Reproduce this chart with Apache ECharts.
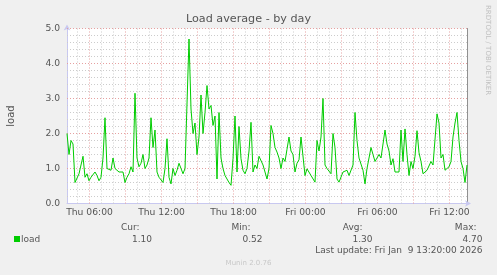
<!DOCTYPE html>
<html><head><meta charset="utf-8">
<script src="https://cdn.jsdelivr.net/npm/echarts@6/dist/echarts.min.js"></script>
<style>html,body{margin:0;padding:0;background:#f0f0f0}#c{width:497px;height:275px}</style>
</head><body><div id="c"></div>
<script>
// Load average samples, 10-minute steps, starting Thu 04:07:30
const loadValues = [
  2.0,1.4,1.8,1.7,0.6,0.55,0.85,0.9,1.35,0.75,
  0.85,0.65,0.75,0.8,0.9,0.8,0.65,0.75,1.3,2.45,
  1.0,1.0,0.95,1.3,1.0,1.05,0.9,0.95,0.9,0.6,
  0.75,0.85,1.05,0.9,3.15,1.3,1.05,1.15,1.4,1.0,
  1.1,1.3,2.45,1.6,2.1,0.9,0.75,0.75,0.6,1.0,
  1.85,0.75,0.56,1.0,0.8,0.95,1.15,1.0,0.85,1.0,
  1.0,4.7,2.7,2.0,2.3,1.4,1.9,3.1,2.0,2.6,
  3.37,2.7,2.8,2.23,2.5,0.7,2.6,1.3,1.0,0.8,
  0.75,0.6,0.52,1.28,2.5,0.9,2.2,1.28,0.95,0.85,
  1.0,1.5,2.32,0.9,1.1,1.0,1.35,1.37,1.1,0.9,
  0.7,1.0,2.23,2.0,1.6,1.47,1.3,1.0,1.3,1.2,
  1.55,1.9,1.5,1.4,0.9,1.15,1.25,1.9,1.85,0.8,
  0.99,0.95,0.8,0.85,0.61,1.8,1.5,1.9,3.0,1.1,
  1.0,1.0,0.85,2.0,1.6,0.7,0.61,0.66,0.9,0.85,
  0.95,0.8,0.75,1.1,2.6,1.8,1.3,1.25,0.95,0.56,
  1.0,1.3,1.6,1.4,1.2,1.2,1.4,1.3,1.3,2.1,
  1.7,1.5,1.1,1.28,0.9,0.85,0.9,2.1,1.2,2.13,
  1.4,0.8,1.2,1.0,1.35,2.08,1.45,1.2,0.85,0.8,
  0.95,0.95,1.2,1.1,1.15,2.56,2.3,1.3,1.4,0.95,
  0.95,1.05,1.2,1.9,2.3,2.6,1.8,1.2,1.0,0.6,
  1.1
];
const startHour = 4.125;          // hours since Thu 00:00
const stepHours = 1 / 6;          // 10 minutes
const xTickHours = [6, 12, 18, 24, 30, 36];
const xTickLabels = ['Thu 06:00', 'Thu 12:00', 'Thu 18:00', 'Fri 00:00', 'Fri 06:00', 'Fri 12:00'];
const yTicks = [0, 1, 2, 3, 4, 5];
const yMinorPerMajor = 5;
const legendHeaders = ['Cur:', 'Min:', 'Avg:', 'Max:'];
const legendValues = ['1.10', '0.52', '1.30', '4.70'];
const seriesName = 'load';
const titleText = 'Load average - by day';
const lastUpdate = 'Last update: Fri Jan  9 13:20:00 2026';

const endHour = startHour + (loadValues.length - 1) * stepHours;
const lineData = loadValues.map((v, i) => [startHour + i * stepHours, v]);

const FONT = 'DejaVu Sans';
const TXT = '#555555';
const MAJOR = '#e6a0a0';
const MINOR = '#cccccc';
const DOT = [1, 2];

const minorLines = [];
const majorLines = [];
for (let h = Math.ceil(startHour); h < endHour; h++) {
  (h % 3 === 0 ? majorLines : minorLines).push({ xAxis: h });
}
for (let i = 0; i < yTicks.length; i++) {
  if (i > 0) majorLines.push({ yAxis: yTicks[i] });
  if (i < yTicks.length - 1) {
    for (let k = 1; k < yMinorPerMajor; k++) {
      minorLines.push({ yAxis: yTicks[i] + (yTicks[i + 1] - yTicks[i]) * k / yMinorPerMajor });
    }
  }
}

const headerRight = [139.5, 250.5, 362.5, 476.5];
const valueRight = [152, 262.5, 372.5, 482.5];
const graphic = [
  { type: 'rect', shape: { x: 14, y: 236, width: 6, height: 6 }, style: { fill: '#00cc00' } },
  { type: 'text', x: 21, y: 239.5, style: { text: seriesName, fill: TXT, font: '9px ' + FONT, textAlign: 'left', textVerticalAlign: 'middle' } },
  { type: 'text', x: 482.5, y: 251, style: { text: lastUpdate, fill: TXT, font: '9px ' + FONT, textAlign: 'right', textVerticalAlign: 'middle' } },
  { type: 'text', x: 248.5, y: 263.5, style: { text: 'Munin 2.0.76', fill: '#c8c8c8', font: '7px ' + FONT, textAlign: 'center', textVerticalAlign: 'middle' } },
  { type: 'text', x: 487.5, y: 5, rotation: -Math.PI / 2, style: { text: 'RRDTOOL / TOBI OETIKER', fill: '#c0c0c0', font: '7px ' + FONT, textAlign: 'left', textVerticalAlign: 'middle' } }
];
legendHeaders.forEach((t, i) => {
  graphic.push({ type: 'text', x: headerRight[i], y: 227.5, style: { text: t, fill: TXT, font: '9px ' + FONT, textAlign: 'right', textVerticalAlign: 'middle' } });
  graphic.push({ type: 'text', x: valueRight[i], y: 239.5, style: { text: legendValues[i], fill: TXT, font: '9px ' + FONT, textAlign: 'right', textVerticalAlign: 'middle' } });
});

const chart = echarts.init(document.getElementById('c'), null, { renderer: 'canvas' });
chart.setOption({
  animation: false,
  backgroundColor: '#f0f0f0',
  title: { text: titleText, left: 'center', top: 14, textStyle: { fontFamily: FONT, fontSize: 11.2, fontWeight: 'normal', color: TXT }, padding: 0 },
  grid: { left: 67, top: 28.5, width: 400, height: 175, show: true, backgroundColor: '#ffffff', borderWidth: 0, containLabel: false, outerBoundsMode: 'none' },
  xAxis: {
    type: 'value', min: startHour, max: endHour,
    axisLine: { show: true, lineStyle: { color: '#c8c8f0' }, symbol: ['none', 'arrow'], symbolSize: [5, 6], symbolOffset: [0, 4] },
    axisTick: { show: false },
    splitLine: { show: false },
    axisLabel: {
      customValues: xTickHours, margin: 5, color: TXT, fontFamily: FONT, fontSize: 9.2,
      formatter: v => xTickLabels[xTickHours.indexOf(Math.round(v))] || ''
    }
  },
  yAxis: [{
    type: 'value', min: yTicks[0], max: yTicks[yTicks.length - 1], interval: 1,
    name: seriesName, nameLocation: 'middle', nameGap: 51,
    nameTextStyle: { color: TXT, fontFamily: FONT, fontSize: 10 },
    axisLine: { show: true, lineStyle: { color: '#c8c8f0' }, symbol: ['none', 'arrow'], symbolSize: [5, 6], symbolOffset: [0, 4] },
    axisTick: { show: false },
    axisLabel: { margin: 7, color: TXT, fontFamily: FONT, fontSize: 9.2, formatter: v => v.toFixed(1) },
    splitLine: { show: false },
    minorSplitLine: { show: false }
  }, {
    type: 'value', position: 'right', min: 0, max: 5,
    axisLine: { show: true, lineStyle: { color: '#909090' } },
    axisTick: { show: false }, axisLabel: { show: false }, splitLine: { show: false }
  }],
  series: [{
    type: 'line', name: 'minorGrid', data: [], silent: true, z: 1,
    markLine: { silent: true, z: 1, symbol: ['none', 'none'], label: { show: false }, lineStyle: { color: MINOR, type: DOT, width: 1 }, data: minorLines, animation: false }
  }, {
    type: 'line', name: 'majorGrid', data: [], silent: true, z: 1,
    markLine: { silent: true, z: 2, symbol: ['none', 'none'], label: { show: false }, lineStyle: { color: MAJOR, type: DOT, width: 1 }, data: majorLines, animation: false }
  }, {
    type: 'line', name: seriesName, data: lineData, showSymbol: false, z: 5,
    lineStyle: { color: '#00cc00', width: 1 }
  }],
  graphic: graphic
});
</script></body></html>
